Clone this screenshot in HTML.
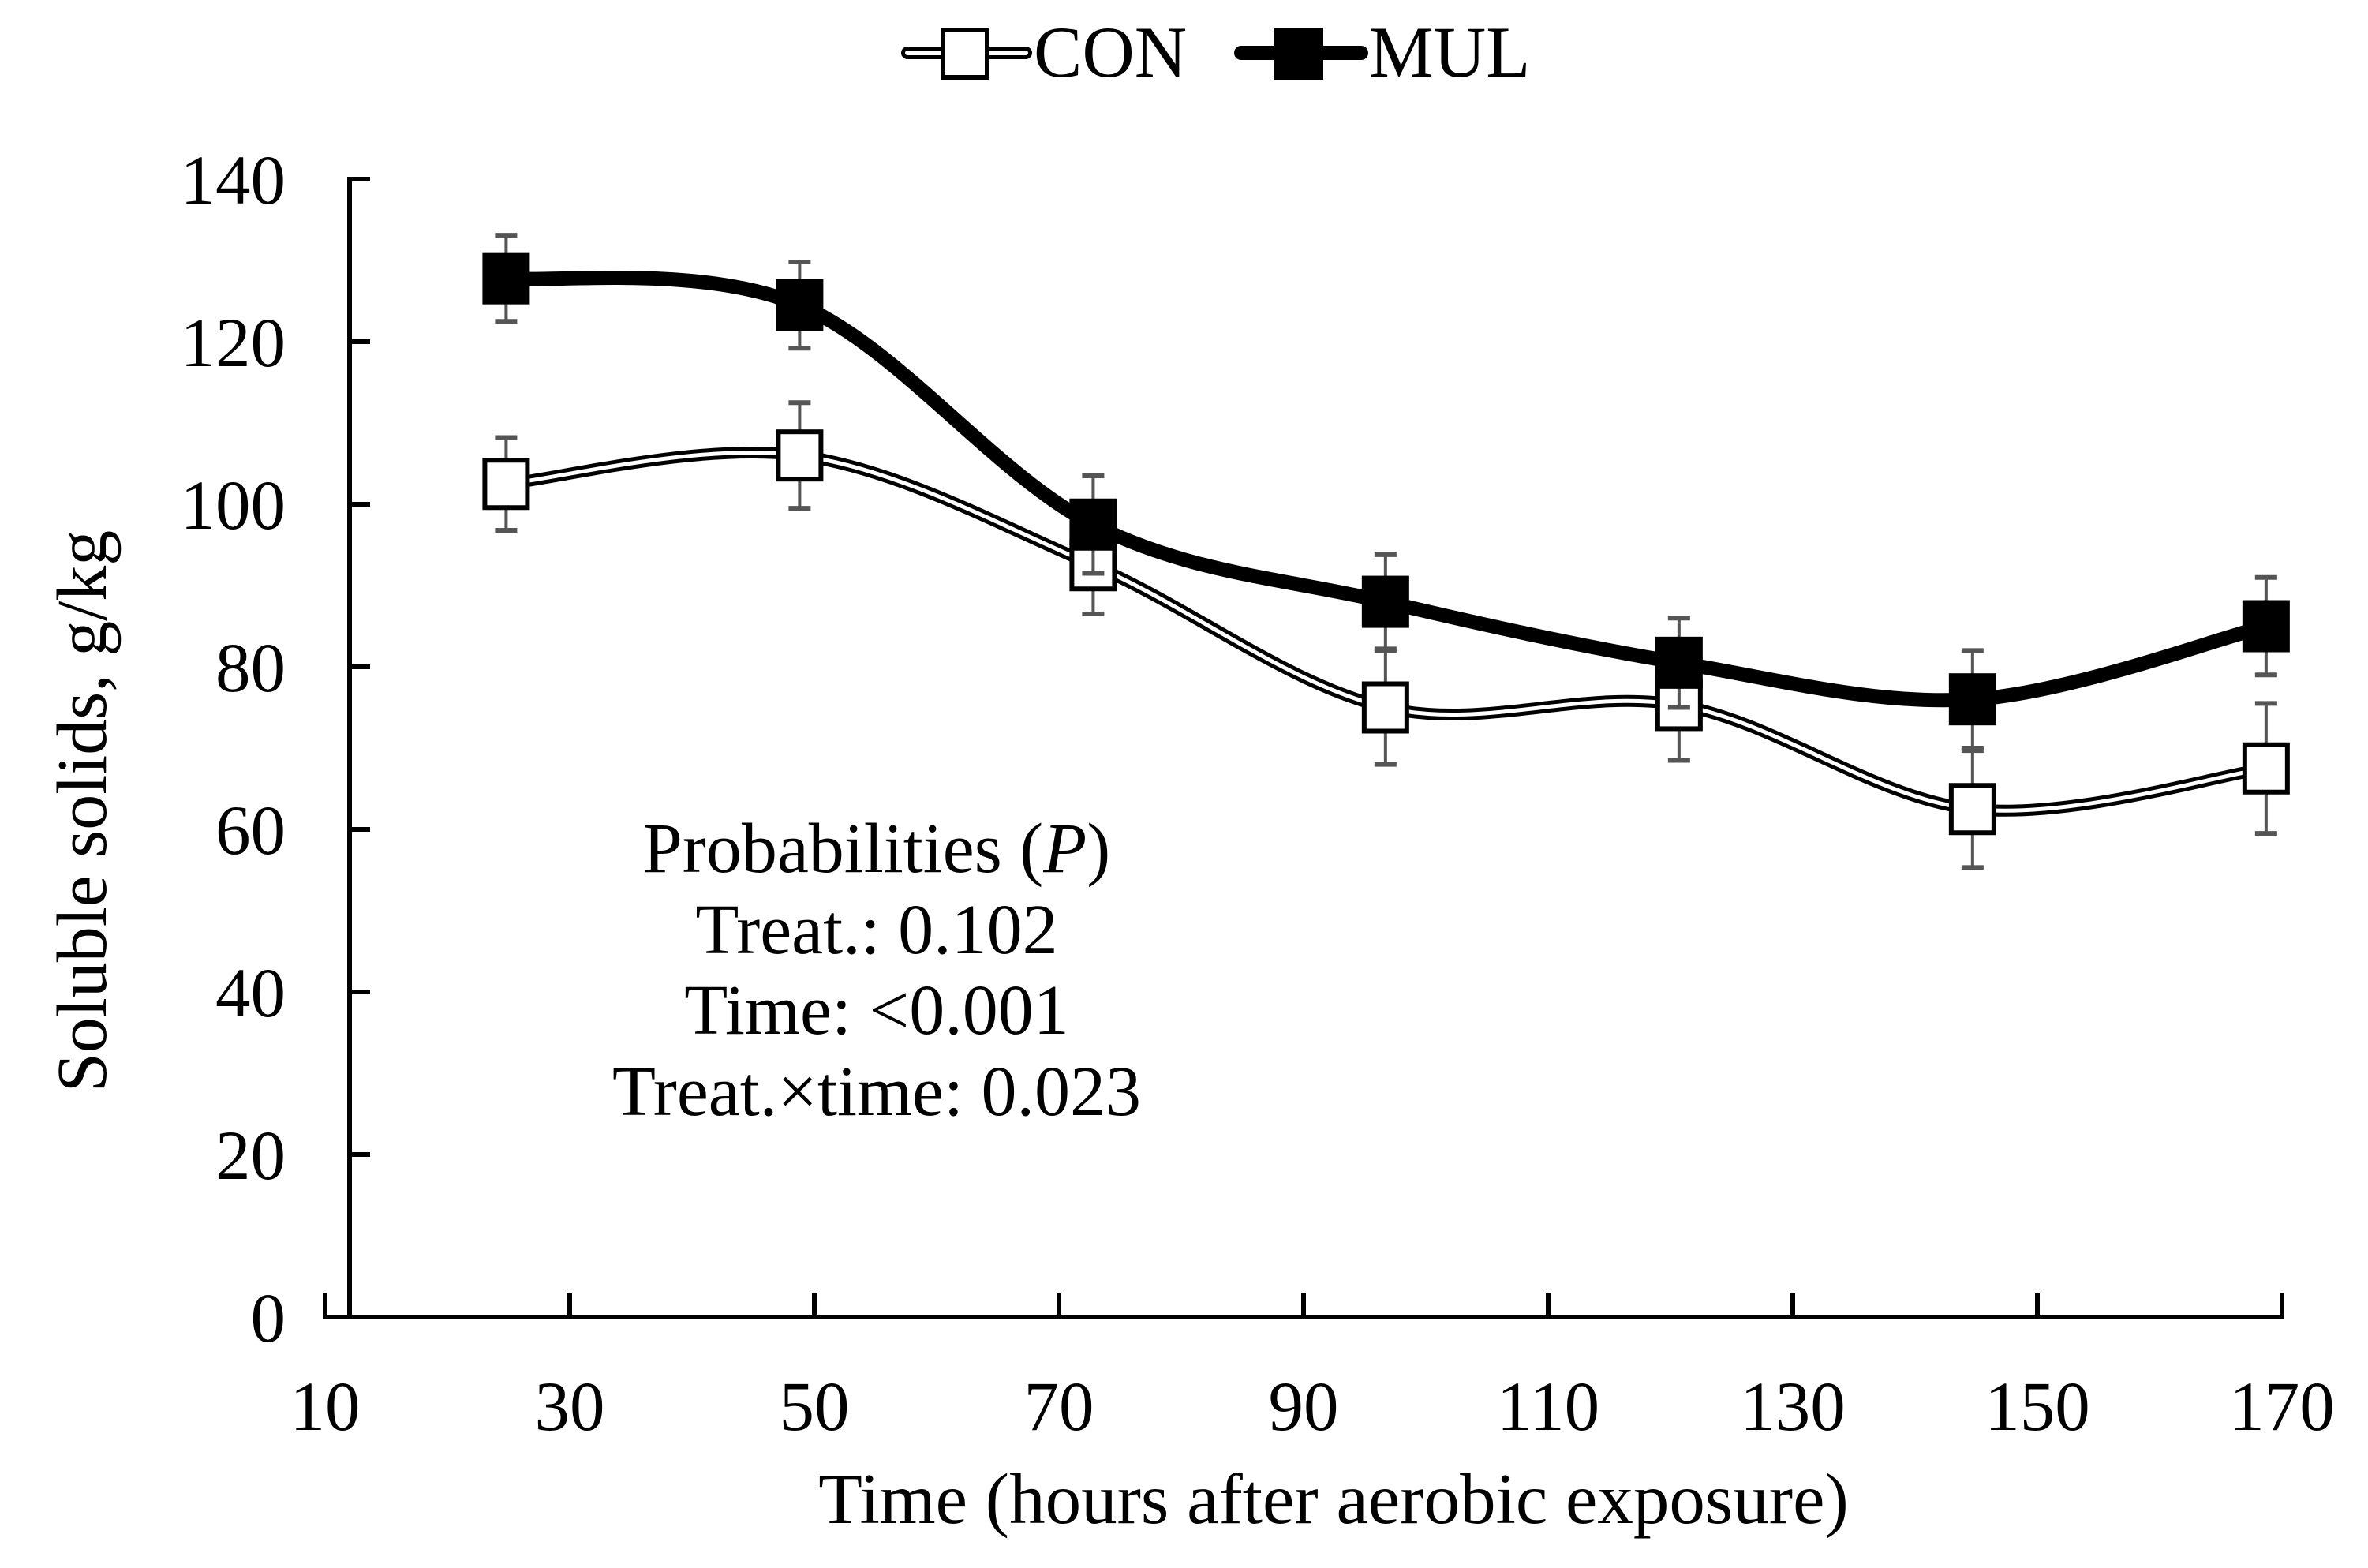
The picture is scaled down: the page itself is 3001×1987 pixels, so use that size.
<!DOCTYPE html>
<html><head><meta charset="utf-8"><style>
html,body{margin:0;padding:0;background:#fff;}
svg{display:block;font-family:"Liberation Serif",serif;}
</style></head><body>
<svg id="chart" width="3001" height="1987" viewBox="0 0 3001 1987" xmlns="http://www.w3.org/2000/svg">
<g id="legend">
  <g>
    <line x1="1150" y1="67" x2="1300" y2="67" stroke="#000" stroke-width="16" stroke-linecap="round"/>
    <line x1="1150" y1="67" x2="1300" y2="67" stroke="#fff" stroke-width="6" stroke-linecap="round"/>
    <rect x="1195" y="38" width="56" height="60" fill="#fff" stroke="#000" stroke-width="6"/>
    <text x="1310" y="97" font-size="92">CON</text>
  </g>
  <g>
    <line x1="1573" y1="67" x2="1725" y2="67" stroke="#000" stroke-width="18" stroke-linecap="round"/>
    <rect x="1618" y="38" width="56" height="60" fill="#000" stroke="#000" stroke-width="6"/>
    <text x="1735" y="97" font-size="92">MUL</text>
  </g>
</g>
<g id="axes"></g>
<g id="series"></g>
<g font-size="90" text-anchor="middle">
  <text x="1111" y="1105">Probabilities (<tspan font-style="italic">P</tspan>)</text>
  <text x="1111" y="1208">Treat.: 0.102</text>
  <text x="1111" y="1310">Time: &lt;0.001</text>
  <text x="1111" y="1413">Treat.×time: 0.023</text>
</g>
<text x="1690" y="1930" font-size="91" text-anchor="middle">Time (hours after aerobic exposure)</text>
<text x="0" y="0" font-size="90" text-anchor="middle" transform="translate(134,1028) rotate(-90)">Soluble solids, g/kg</text>
</svg>
<script>
const hours = [24.8, 48.8, 72.8, 96.7, 120.7, 144.7, 168.7];
const conValues = [102.5, 106, 92.5, 75, 75.3, 62.5, 67.5];
const conErrors = [5.7, 6.5, 6, 7, 6.8, 7.2, 8];
const mulValues = [127.8, 124.5, 97.5, 88, 80.5, 76, 85];
const mulErrors = [5.3, 5.3, 6, 5.8, 5.5, 6, 6];
const xTicks = [10, 30, 50, 70, 90, 110, 130, 150, 170];
const yTicks = [0, 20, 40, 60, 80, 100, 120, 140];

const NS = 'http://www.w3.org/2000/svg';
const X0 = 412, X1 = 2892, XMIN = 10, XMAX = 170;
const Y0 = 1669, Y1 = 227, YMIN = 0, YMAX = 140;
const xs = v => X0 + (v - XMIN) / (XMAX - XMIN) * (X1 - X0);
const ys = v => Y0 - (v - YMIN) / (YMAX - YMIN) * (Y0 - Y1);
const AX = xs(12);

function mk(tag, attrs, parent) {
  const e = document.createElementNS(NS, tag);
  for (const k in attrs) e.setAttribute(k, attrs[k]);
  parent.appendChild(e);
  return e;
}
const axes = document.getElementById('axes');
const series = document.getElementById('series');

let el = mk('line', {x1: X0 - 3, y1: Y0, x2: X1 + 3, y2: Y0, stroke: '#000', 'stroke-width': 6}, axes);


el = mk('line', {x1: AX, y1: Y0, x2: AX, y2: Y1 - 3, stroke: '#000', 'stroke-width': 6}, axes);



xTicks.forEach(t => {
  const x = xs(t);
  let tk = mk('line', {x1: x, y1: Y0, x2: x, y2: Y0 - 30, stroke: '#000', 'stroke-width': 6}, axes);
  
  
  let lb = mk('text', {x: x, y: 1812, 'font-size': 89, 'text-anchor': 'middle'}, axes);
  lb.textContent = t;
  
  
});
yTicks.forEach(t => {
  const y = ys(t);
  let tk = mk('line', {x1: AX, y1: y, x2: AX + 26, y2: y, stroke: '#000', 'stroke-width': 6}, axes);
  
  
  let lb = mk('text', {x: 362, y: y + 31, 'font-size': 89, 'text-anchor': 'end'}, axes);
  lb.textContent = t;
  
  
});

function smoothPath(pts) {
  let d = 'M' + pts[0][0] + ',' + pts[0][1];
  for (let i = 0; i < pts.length - 1; i++) {
    const p0 = pts[Math.max(i - 1, 0)], p1 = pts[i], p2 = pts[i + 1], p3 = pts[Math.min(i + 2, pts.length - 1)];
    const c1x = p1[0] + (p2[0] - p0[0]) / 6, c1y = p1[1] + (p2[1] - p0[1]) / 6;
    const c2x = p2[0] - (p3[0] - p1[0]) / 6, c2y = p2[1] - (p3[1] - p1[1]) / 6;
    d += ' C' + c1x + ',' + c1y + ' ' + c2x + ',' + c2y + ' ' + p2[0] + ',' + p2[1];
  }
  return d;
}

function drawSeries(name, vals, errs, filled) {
  const g = mk('g', {}, series);
  
  
  hours.forEach((h, i) => {
    const x = xs(h), yt = ys(vals[i] + errs[i]), yb = ys(vals[i] - errs[i]);
    const eb = mk('g', {stroke: '#555', 'stroke-width': 4}, g);
    
    
    mk('line', {x1: x, y1: yt, x2: x, y2: yb}, eb);
    mk('line', {x1: x - 14, y1: yt, x2: x + 14, y2: yt, 'stroke-width': 6}, eb);
    mk('line', {x1: x - 14, y1: yb, x2: x + 14, y2: yb, 'stroke-width': 6}, eb);
  });
  const pts = hours.map((h, i) => [xs(h), ys(vals[i])]);
  const d = smoothPath(pts);
  if (filled) {
    const p = mk('path', {d: d, fill: 'none', stroke: '#000', 'stroke-width': 18, 'stroke-linejoin': 'round'}, g);
    
    
  } else {
    const p = mk('path', {d: d, fill: 'none', stroke: '#000', 'stroke-width': 15}, g);
    
    
    mk('path', {d: d, fill: 'none', stroke: '#fff', 'stroke-width': 5}, g);
  }
  pts.forEach(pt => {
    const r = mk('rect', {x: pt[0] - 27, y: pt[1] - 30, width: 54, height: 60, fill: filled ? '#000' : '#fff', stroke: '#000', 'stroke-width': 6}, g);
    
    
  });
}
drawSeries('con', conValues, conErrors, false);
drawSeries('mul', mulValues, mulErrors, true);
</script>
</body></html>
